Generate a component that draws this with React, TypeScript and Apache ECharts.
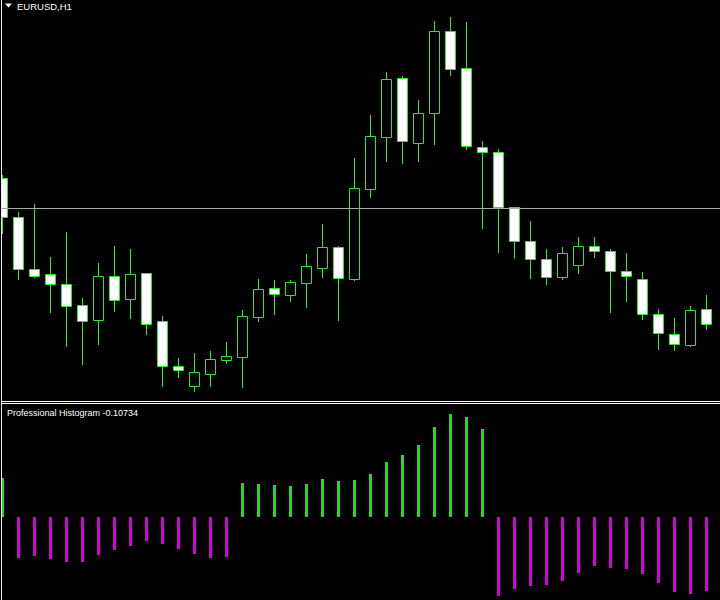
import React, { useEffect, useRef } from "react";
import * as echarts from "echarts";

const symbolLabel = "EURUSD,H1";
const indicatorName = "Professional Histogram";

// Hourly bars, left to right
const opens = [
  1.1222, 1.1183, 1.1131, 1.1126, 1.1116, 1.1095, 1.108, 1.1124, 1.1101, 1.1127,
  1.1079, 1.1034, 1.1014, 1.1026, 1.104, 1.1043, 1.1083, 1.1112, 1.1105, 1.1117,
  1.1132, 1.1153, 1.1121, 1.1211, 1.1263, 1.1322, 1.1257, 1.1287, 1.1369, 1.1332,
  1.1253, 1.1248, 1.1193, 1.1159, 1.1141, 1.1123, 1.1135, 1.1154, 1.1149, 1.1129,
  1.1121, 1.1086, 1.1066, 1.1055, 1.1091,
];
const highs = [
  1.1225, 1.1188, 1.1196, 1.1143, 1.1168, 1.1102, 1.1137, 1.1154, 1.1151, 1.1127,
  1.1084, 1.1042, 1.1047, 1.1049, 1.1058, 1.109, 1.1121, 1.112, 1.112, 1.1146,
  1.1176, 1.1154, 1.1242, 1.1285, 1.1328, 1.1324, 1.13, 1.1379, 1.1383, 1.1378,
  1.1259, 1.1251, 1.1193, 1.1179, 1.1151, 1.1153, 1.1163, 1.1163, 1.1151, 1.1147,
  1.1128, 1.1091, 1.1082, 1.1094, 1.1105,
];
const lows = [
  1.1167, 1.1121, 1.1123, 1.1088, 1.1054, 1.1036, 1.1056, 1.1089, 1.1082, 1.1066,
  1.1014, 1.1023, 1.1009, 1.1014, 1.1037, 1.1013, 1.1079, 1.1086, 1.1099, 1.1093,
  1.1123, 1.108, 1.112, 1.1203, 1.1239, 1.1237, 1.1239, 1.1256, 1.1325, 1.1251,
  1.1172, 1.1148, 1.1142, 1.1122, 1.1116, 1.1121, 1.1127, 1.1143, 1.1088, 1.1099,
  1.1081, 1.1051, 1.105, 1.1054, 1.1071,
];
const closes = [
  1.1183, 1.1131, 1.1124, 1.1116, 1.1094, 1.1079, 1.1124, 1.11, 1.1126, 1.1076,
  1.1034, 1.103, 1.1028, 1.1041, 1.1044, 1.1084, 1.1111, 1.1106, 1.1118, 1.1134,
  1.1153, 1.1122, 1.1212, 1.1264, 1.1321, 1.1259, 1.1287, 1.1369, 1.1331, 1.1254,
  1.1248, 1.1193, 1.1159, 1.1141, 1.1123, 1.1147, 1.1154, 1.1149, 1.1129, 1.1124,
  1.1086, 1.1067, 1.1056, 1.109, 1.1076,
];

// Professional Histogram values per bar
const histogram = [
  0.056, -0.0595, -0.0566, -0.0609, -0.0647, -0.0653, -0.0551, -0.0479, -0.0421, -0.0348,
  -0.0392, -0.0464, -0.0537, -0.0595, -0.058, 0.0493, 0.0479, 0.0464, 0.045, 0.0479,
  0.0551, 0.0522, 0.0537, 0.0624, 0.0798, 0.0899, 0.1044, 0.1305, 0.1494, 0.145,
  0.1276, -0.1146, -0.1044, -0.1001, -0.0986, -0.0928, -0.0812, -0.0711, -0.074, -0.0754,
  -0.0827, -0.0957, -0.1088, -0.1117, -0.10734,
];

const levelLine = 1.1192;
const priceMin = 1.1;
const priceMax = 1.14;
const histMin = -0.12035;
const histMax = 0.16385;

const CANDLE = "#2ee62e";
const HIST_UP = "#1fdc1f";
const HIST_DN = "#d800d8";

export default function App() {
  const ref = useRef<HTMLDivElement>(null);

  useEffect(() => {
    if (!ref.current) return;
    const chart = echarts.init(ref.current, null, { renderer: "svg" });
    const n = opens.length;
    const candleData = opens.map((o, i) => [i, o, closes[i], lows[i], highs[i]]);
    const histData = histogram.map((v, i) => ({
      value: [i, v],
      itemStyle: { color: v >= 0 ? HIST_UP : HIST_DN },
    }));
    const xMax = 718 / 16;

    const option: any = {
      animation: false,
      backgroundColor: "#000000",
      grid: [
        { left: 2, top: 0, width: 718, height: 400 },
        { left: 2, top: 404, width: 718, height: 196 },
      ],
      xAxis: [
        { type: "value", gridIndex: 0, min: 0, max: xMax, show: false },
        { type: "value", gridIndex: 1, min: 0, max: xMax, show: false },
      ],
      yAxis: [
        { type: "value", gridIndex: 0, min: priceMin, max: priceMax, show: false, splitLine: { show: false } },
        { type: "value", gridIndex: 1, min: histMin, max: histMax, show: false, splitLine: { show: false } },
      ],
      series: [
        {
          type: "line",
          xAxisIndex: 0,
          yAxisIndex: 0,
          z: 1,
          data: [
            [0, levelLine],
            [n - 1, levelLine],
          ],
          showSymbol: false,
          silent: true,
          lineStyle: { opacity: 0 },
          markLine: {
            silent: true,
            symbol: "none",
            precision: 5,
            label: { show: false },
            lineStyle: { color: "#a8a8a8", width: 1, type: "solid" },
            data: [{ yAxis: levelLine }],
          },
        },
        {
          type: "custom",
          xAxisIndex: 0,
          yAxisIndex: 0,
          z: 3,
          clip: true,
          data: candleData,
          renderItem: (params: any, api: any) => {
            const i = api.value(0);
            const o = api.value(1);
            const c = api.value(2);
            const l = api.value(3);
            const h = api.value(4);
            const pO = api.coord([i, o]);
            const pC = api.coord([i, c]);
            const pL = api.coord([i, l]);
            const pH = api.coord([i, h]);
            const cx = Math.round(pO[0]);
            const top = Math.round(Math.min(pO[1], pC[1])) + 0.5;
            const bottom = Math.round(Math.max(pO[1], pC[1])) + 0.5;
            const bull = c >= o;
            return {
              type: "group",
              children: [
                {
                  type: "line",
                  shape: { x1: cx + 0.5, y1: Math.round(pH[1]), x2: cx + 0.5, y2: Math.round(pL[1]) + 1 },
                  style: { stroke: CANDLE, lineWidth: 1 },
                },
                {
                  type: "rect",
                  shape: { x: cx - 4.5, y: top, width: 10, height: Math.max(bottom - top, 2) },
                  style: { fill: bull ? "#000000" : "#ffffff", stroke: CANDLE, lineWidth: 1 },
                },
              ],
            };
          },
        },
        {
          type: "custom",
          xAxisIndex: 1,
          yAxisIndex: 1,
          clip: true,
          data: histData,
          renderItem: (params: any, api: any) => {
            const i = api.value(0);
            const v = api.value(1);
            const p0 = api.coord([i, 0]);
            const p1 = api.coord([i, v]);
            const cx = Math.round(p0[0]);
            const y0 = Math.round(p0[1]);
            const y1 = Math.round(p1[1]);
            return {
              type: "rect",
              shape: { x: cx - 1, y: Math.min(y0, y1), width: 3, height: Math.abs(y1 - y0) },
              style: { fill: v >= 0 ? HIST_UP : HIST_DN },
            };
          },
        },
      ],
      graphic: [
        { type: "line", shape: { x1: 1.5, y1: 0, x2: 1.5, y2: 600 }, style: { stroke: "#e8e8e8", lineWidth: 1 }, z: 10 },
        { type: "line", shape: { x1: 1, y1: 401.5, x2: 720, y2: 401.5 }, style: { stroke: "#ffffff", lineWidth: 1 }, z: 10 },
        { type: "line", shape: { x1: 1, y1: 403.5, x2: 720, y2: 403.5 }, style: { stroke: "#ffffff", lineWidth: 1 }, z: 10 },
        {
          type: "polygon",
          shape: { points: [[5, 3.5], [12, 3.5], [8.5, 7.5]] },
          style: { fill: "#ffffff" },
          z: 10,
        },
        {
          type: "text",
          x: 17,
          y: 1,
          style: {
            text: symbolLabel,
            fill: "#ffffff",
            font: "9.5px 'Liberation Sans', Arial, sans-serif",
            textVerticalAlign: "top",
          },
          z: 10,
        },
        {
          type: "text",
          x: 7,
          y: 408,
          style: {
            text: indicatorName + " " + histogram[histogram.length - 1].toFixed(5),
            fill: "#ffffff",
            font: "9px 'Liberation Sans', Arial, sans-serif",
            textVerticalAlign: "top",
          },
          z: 10,
        },
      ],
    };
    chart.setOption(option);
    return () => chart.dispose();
  }, []);

  return (
    <div
      ref={ref}
      style={{ position: "fixed", left: 0, top: 0, width: 720, height: 600, background: "#000" }}
    />
  );
}
